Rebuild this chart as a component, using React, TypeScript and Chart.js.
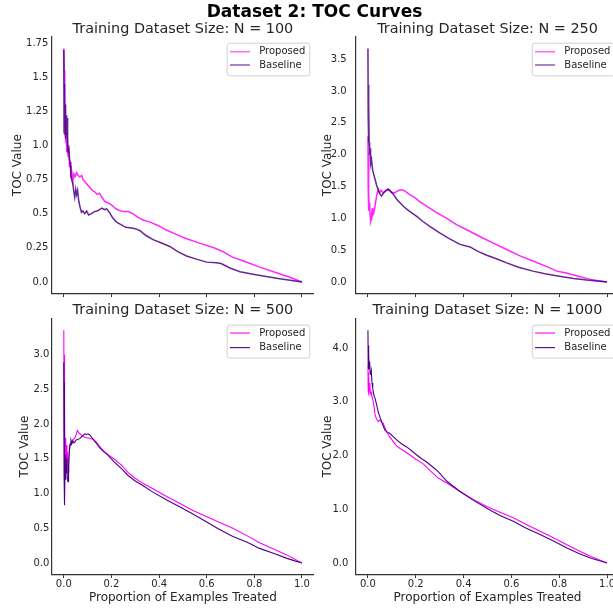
import React, { useEffect, useRef } from 'react';
import { Chart, registerables } from 'chart.js';

Chart.register(...registerables);
Chart.defaults.font.family = 'DejaVu Sans';

// ---------------- DATA ----------------
const SERIES_NAMES = ['Proposed', 'Baseline'];
const X_TICKS = [0, 0.2, 0.4, 0.6, 0.8, 1.0];

// N = 100
const N100_Y_TICKS = [0, 0.25, 0.5, 0.75, 1.0, 1.25, 1.5, 1.75];
const N100_PROPOSED_X = [0, 0.002, 0.004, 0.006, 0.008, 0.01, 0.012, 0.015, 0.018, 0.021, 0.024, 0.027, 0.03, 0.034, 0.038, 0.042, 0.047, 0.053, 0.06, 0.067, 0.075, 0.081, 0.09, 0.1, 0.11, 0.12, 0.13, 0.14, 0.15, 0.16, 0.172, 0.185, 0.2, 0.215, 0.23, 0.25, 0.27, 0.29, 0.31, 0.333, 0.36, 0.4, 0.43, 0.47, 0.51, 0.56, 0.63, 0.67, 0.71, 0.76, 0.82, 0.88, 0.94, 1.0];
const N100_PROPOSED_Y = [1.71, 1.55, 1.35, 1.2, 1.02, 1.1, 0.95, 1.05, 0.92, 0.98, 0.84, 0.88, 0.78, 0.8, 0.74, 0.79, 0.77, 0.8, 0.78, 0.77, 0.78, 0.75, 0.73, 0.71, 0.69, 0.67, 0.66, 0.64, 0.65, 0.62, 0.59, 0.58, 0.565, 0.54, 0.525, 0.515, 0.515, 0.5, 0.475, 0.454, 0.44, 0.41, 0.38, 0.35, 0.32, 0.29, 0.25, 0.22, 0.18, 0.15, 0.11, 0.075, 0.04, 0.0];
const N100_BASELINE_X = [0, 0.001, 0.002, 0.003, 0.004, 0.005, 0.006, 0.007, 0.008, 0.009, 0.01, 0.012, 0.014, 0.016, 0.018, 0.02, 0.024, 0.028, 0.03, 0.034, 0.038, 0.042, 0.046, 0.05, 0.054, 0.058, 0.062, 0.068, 0.074, 0.08, 0.088, 0.096, 0.104, 0.116, 0.128, 0.14, 0.15, 0.16, 0.172, 0.18, 0.193, 0.205, 0.22, 0.24, 0.26, 0.284, 0.3, 0.32, 0.345, 0.375, 0.41, 0.445, 0.48, 0.515, 0.56, 0.6, 0.64, 0.66, 0.7, 0.74, 0.8, 0.85, 0.9, 0.95, 1.0];
const N100_BASELINE_Y = [1.7, 1.1, 1.45, 1.08, 1.32, 1.12, 1.25, 1.1, 1.3, 1.05, 1.22, 1.08, 1.2, 1.0, 0.95, 1.0, 0.9, 0.85, 0.78, 0.74, 0.72, 0.66, 0.62, 0.68, 0.64, 0.67, 0.6, 0.55, 0.51, 0.52, 0.5, 0.52, 0.49, 0.5, 0.515, 0.52, 0.53, 0.54, 0.53, 0.535, 0.505, 0.47, 0.44, 0.42, 0.4, 0.395, 0.39, 0.375, 0.34, 0.31, 0.285, 0.26, 0.22, 0.19, 0.165, 0.145, 0.14, 0.135, 0.1, 0.075, 0.055, 0.04, 0.025, 0.012, 0.0];

// N = 250
const N250_Y_TICKS = [0, 0.5, 1.0, 1.5, 2.0, 2.5, 3.0, 3.5];
const N250_PROPOSED_X = [0, 0.001, 0.002, 0.003, 0.004, 0.005, 0.007, 0.009, 0.011, 0.013, 0.016, 0.018, 0.02, 0.024, 0.028, 0.032, 0.036, 0.04, 0.043, 0.048, 0.055, 0.064, 0.075, 0.085, 0.092, 0.1, 0.11, 0.12, 0.13, 0.14, 0.15, 0.165, 0.176, 0.195, 0.218, 0.25, 0.287, 0.33, 0.37, 0.413, 0.47, 0.524, 0.58, 0.636, 0.69, 0.748, 0.79, 0.83, 0.88, 0.93, 1.0];
const N250_PROPOSED_Y = [2.29, 1.5, 2.05, 1.12, 1.4, 1.13, 1.25, 1.05, 0.95, 0.98, 1.1, 1.16, 1.05, 1.08, 1.15, 1.25, 1.35, 1.42, 1.45, 1.4, 1.44, 1.4, 1.43, 1.45, 1.44, 1.41, 1.4, 1.42, 1.44, 1.45, 1.44, 1.4, 1.37, 1.33, 1.26, 1.18, 1.09, 1.0, 0.9, 0.82, 0.71, 0.61, 0.51, 0.41, 0.33, 0.24, 0.17, 0.14, 0.09, 0.04, 0.0];
const N250_BASELINE_X = [0, 0.001, 0.002, 0.003, 0.004, 0.005, 0.007, 0.009, 0.011, 0.015, 0.02, 0.025, 0.03, 0.036, 0.043, 0.05, 0.057, 0.065, 0.075, 0.085, 0.095, 0.106, 0.12, 0.135, 0.148, 0.17, 0.204, 0.23, 0.26, 0.3, 0.34, 0.385, 0.427, 0.46, 0.497, 0.54, 0.58, 0.63, 0.69, 0.74, 0.8, 0.86, 0.915, 1.0];
const N250_BASELINE_Y = [3.67, 2.6, 3.1, 2.2, 2.8, 2.19, 2.0, 2.1, 1.85, 1.92, 1.75, 1.68, 1.61, 1.52, 1.45, 1.38, 1.35, 1.4, 1.44, 1.46, 1.42, 1.38, 1.3, 1.24, 1.19, 1.12, 1.03, 0.95, 0.87, 0.77, 0.68, 0.59, 0.55, 0.48, 0.42, 0.36, 0.3, 0.23, 0.17, 0.13, 0.09, 0.055, 0.03, 0.0];

// N = 500
const N500_Y_TICKS = [0, 0.5, 1.0, 1.5, 2.0, 2.5, 3.0];
const N500_PROPOSED_X = [0, 0.001, 0.002, 0.003, 0.004, 0.005, 0.007, 0.009, 0.011, 0.013, 0.015, 0.018, 0.021, 0.024, 0.027, 0.03, 0.035, 0.04, 0.046, 0.052, 0.057, 0.062, 0.068, 0.074, 0.08, 0.088, 0.095, 0.105, 0.116, 0.127, 0.137, 0.15, 0.16, 0.172, 0.19, 0.21, 0.242, 0.27, 0.3, 0.33, 0.374, 0.43, 0.486, 0.54, 0.598, 0.65, 0.71, 0.77, 0.822, 0.88, 0.934, 1.0];
const N500_PROPOSED_Y = [3.35, 2.2, 3.0, 1.6, 2.2, 1.4, 1.8, 1.55, 1.7, 1.45, 1.6, 1.31, 1.5, 1.65, 1.72, 1.74, 1.76, 1.78, 1.8, 1.85, 1.91, 1.88, 1.86, 1.84, 1.82, 1.81, 1.8, 1.8, 1.79, 1.77, 1.74, 1.68, 1.64, 1.6, 1.55, 1.5, 1.41, 1.3, 1.22, 1.15, 1.07, 0.96, 0.86, 0.76, 0.67, 0.59, 0.5, 0.39, 0.29, 0.2, 0.12, 0.0];
const N500_BASELINE_X = [0, 0.001, 0.002, 0.003, 0.004, 0.005, 0.007, 0.009, 0.011, 0.013, 0.015, 0.018, 0.02, 0.023, 0.026, 0.03, 0.034, 0.038, 0.042, 0.046, 0.052, 0.06, 0.067, 0.075, 0.082, 0.088, 0.095, 0.102, 0.11, 0.12, 0.13, 0.137, 0.15, 0.165, 0.186, 0.21, 0.242, 0.27, 0.3, 0.33, 0.374, 0.43, 0.486, 0.54, 0.598, 0.65, 0.71, 0.77, 0.822, 0.88, 0.934, 0.97, 1.0];
const N500_BASELINE_Y = [2.89, 1.3, 2.6, 1.0, 0.83, 1.4, 1.2, 1.55, 1.3, 1.5, 1.2, 1.17, 1.4, 1.6, 1.7, 1.77, 1.72, 1.76, 1.73, 1.74, 1.77, 1.78, 1.79, 1.82, 1.84, 1.86, 1.85, 1.86, 1.84, 1.8, 1.75, 1.72, 1.66, 1.61, 1.55, 1.46, 1.36, 1.26, 1.18, 1.12, 1.02, 0.91, 0.81, 0.71, 0.595, 0.49, 0.38, 0.3, 0.21, 0.14, 0.07, 0.03, 0.0];

// N = 1000
const N1000_Y_TICKS = [0, 1.0, 2.0, 3.0, 4.0];
const N1000_PROPOSED_X = [0, 0.001, 0.002, 0.003, 0.004, 0.006, 0.008, 0.01, 0.013, 0.015, 0.018, 0.022, 0.026, 0.03, 0.036, 0.043, 0.05, 0.057, 0.064, 0.071, 0.078, 0.09, 0.106, 0.12, 0.134, 0.15, 0.176, 0.2, 0.23, 0.26, 0.294, 0.33, 0.385, 0.44, 0.497, 0.55, 0.608, 0.66, 0.72, 0.78, 0.832, 0.88, 0.93, 1.0];
const N1000_PROPOSED_Y = [3.68, 3.2, 3.55, 3.16, 3.45, 3.2, 3.35, 3.15, 3.18, 3.13, 3.08, 3.0, 2.9, 2.75, 2.68, 2.63, 2.66, 2.62, 2.6, 2.52, 2.44, 2.35, 2.26, 2.18, 2.13, 2.09, 2.01, 1.93, 1.85, 1.72, 1.58, 1.49, 1.33, 1.18, 1.05, 0.95, 0.84, 0.72, 0.59, 0.46, 0.34, 0.23, 0.124, 0.0];
const N1000_BASELINE_X = [0, 0.001, 0.002, 0.003, 0.004, 0.005, 0.007, 0.009, 0.011, 0.014, 0.017, 0.02, 0.025, 0.03, 0.036, 0.043, 0.05, 0.057, 0.064, 0.071, 0.08, 0.092, 0.106, 0.12, 0.14, 0.162, 0.185, 0.204, 0.225, 0.245, 0.27, 0.294, 0.33, 0.385, 0.44, 0.497, 0.55, 0.608, 0.66, 0.72, 0.78, 0.832, 0.88, 0.93, 1.0];
const N1000_BASELINE_Y = [4.33, 3.7, 4.05, 3.6, 3.9, 3.62, 3.75, 3.55, 3.5, 3.58, 3.35, 3.25, 3.12, 3.06, 2.95, 2.81, 2.72, 2.63, 2.55, 2.47, 2.44, 2.41, 2.35, 2.29, 2.22, 2.16, 2.08, 2.01, 1.94, 1.88, 1.79, 1.7, 1.52, 1.33, 1.17, 1.02, 0.89, 0.775, 0.65, 0.53, 0.4, 0.28, 0.18, 0.093, 0.0];

// ---------------- STYLE / LAYOUT ----------------
const TEXT = '#262626';
const PROPOSED_RGB = '255,0,255';
const BASELINE_RGB = '75,0,130';
const CANVAS_W = 640;
const CANVAS_H = 609;

type PanelSpec = {
  title: string;
  px: number[]; py: number[]; bx: number[]; by: number[];
  yTicks: number[];
  yMin: number; yMax: number;
  padLeft: number; padRight: number; padTop: number; padBottom: number;
  yWidth: number; yTitlePad: number; yTickPad: number;
  xHeight: number; showX: boolean; titlePadBottom: number;
  lineAlpha: number; lineWidth: number; legendAlpha: number; legendWidth: number;
  legendRows: [number, number]; legendH: number;
};

const PANELS: PanelSpec[] = [
  {
    title: 'Training Dataset Size: N = 100',
    px: N100_PROPOSED_X, py: N100_PROPOSED_Y, bx: N100_BASELINE_X, by: N100_BASELINE_Y,
    yTicks: N100_Y_TICKS, yMin: -0.0855, yMax: 1.7955,
    padLeft: 0, padRight: 326.1, padTop: 21.8, padBottom: 311.4,
    yWidth: 51.9, yTitlePad: 10.8, yTickPad: 3.6,
    xHeight: 4, showX: false, titlePadBottom: 0.6,
    lineAlpha: 0.85, lineWidth: 1.5, legendAlpha: 0.6, legendWidth: 1.6,
    legendRows: [9, 22.3], legendH: 32.6,
  },
  {
    title: 'Training Dataset Size: N = 250',
    px: N250_PROPOSED_X, py: N250_PROPOSED_Y, bx: N250_BASELINE_X, by: N250_BASELINE_Y,
    yTicks: N250_Y_TICKS, yMin: -0.1835, yMax: 3.8535,
    padLeft: 300, padRight: 21, padTop: 21.8, padBottom: 311.4,
    yWidth: 56, yTitlePad: 20.9, yTickPad: 9.3,
    xHeight: 4, showX: false, titlePadBottom: 0.6,
    lineAlpha: 0.85, lineWidth: 1.5, legendAlpha: 0.6, legendWidth: 1.6,
    legendRows: [9, 22.3], legendH: 32.6,
  },
  {
    title: 'Training Dataset Size: N = 500',
    px: N500_PROPOSED_X, py: N500_PROPOSED_Y, bx: N500_BASELINE_X, by: N500_BASELINE_Y,
    yTicks: N500_Y_TICKS, yMin: -0.1675, yMax: 3.5175,
    padLeft: 0, padRight: 326.1, padTop: 303.5, padBottom: 0,
    yWidth: 51.9, yTitlePad: 17.5, yTickPad: 2.6,
    xHeight: 34.4, showX: true, titlePadBottom: 0.8,
    lineAlpha: 1, lineWidth: 1.1, legendAlpha: 1, legendWidth: 1.1,
    legendRows: [8.4, 23], legendH: 33,
  },
  {
    title: 'Training Dataset Size: N = 1000',
    px: N1000_PROPOSED_X, py: N1000_PROPOSED_Y, bx: N1000_BASELINE_X, by: N1000_BASELINE_Y,
    yTicks: N1000_Y_TICKS, yMin: -0.2165, yMax: 4.5465,
    padLeft: 300, padRight: 21, padTop: 303.5, padBottom: 0,
    yWidth: 56, yTitlePad: 20.9, yTickPad: 7.7,
    xHeight: 34.4, showX: true, titlePadBottom: 0.8,
    lineAlpha: 1, lineWidth: 1.1, legendAlpha: 1, legendWidth: 1.1,
    legendRows: [8.4, 23], legendH: 33,
  },
];

const fmt = (v: number) => (Number.isInteger(v) ? v.toFixed(1) : String(v));

const toPoints = (xs: number[], ys: number[]) => xs.map((x, i) => ({ x, y: ys[i] }));

function roundRect(ctx: CanvasRenderingContext2D, x: number, y: number, w: number, h: number, r: number) {
  ctx.beginPath();
  ctx.moveTo(x + r, y);
  ctx.lineTo(x + w - r, y);
  ctx.arcTo(x + w, y, x + w, y + r, r);
  ctx.lineTo(x + w, y + h - r);
  ctx.arcTo(x + w, y + h, x + w - r, y + h, r);
  ctx.lineTo(x + r, y + h);
  ctx.arcTo(x, y + h, x, y + h - r, r);
  ctx.lineTo(x, y + r);
  ctx.arcTo(x, y, x + r, y, r);
  ctx.closePath();
}

const insideLegend = {
  id: 'insideLegend',
  afterDatasetsDraw(chart: any, _args: any, opts: any) {
    const { ctx, chartArea } = chart;
    const spec: PanelSpec = opts.spec;
    ctx.save();
    ctx.font = '10px "DejaVu Sans"';
    const textW = Math.max(...SERIES_NAMES.map((n) => ctx.measureText(n).width));
    const w = 32.6 + textW + 4;
    const right = chartArea.right - 4.6;
    const left = right - w;
    const top = chartArea.top + 5.9;
    roundRect(ctx, left + 0.5, top + 0.5, w, spec.legendH, 2.5);
    ctx.fillStyle = 'rgba(255,255,255,0.85)';
    ctx.fill();
    ctx.strokeStyle = '#d0d0d0';
    ctx.lineWidth = 1;
    ctx.stroke();
    const rgbs = [PROPOSED_RGB, BASELINE_RGB];
    SERIES_NAMES.forEach((name, i) => {
      const y = top + spec.legendRows[i];
      ctx.beginPath();
      ctx.moveTo(left + 3.3, y);
      ctx.lineTo(left + 23.3, y);
      ctx.strokeStyle = `rgba(${rgbs[i]},${spec.legendAlpha})`;
      ctx.lineWidth = spec.legendWidth;
      ctx.stroke();
      ctx.fillStyle = TEXT;
      ctx.textAlign = 'left';
      ctx.textBaseline = 'middle';
      ctx.fillText(name, left + 32.6, y);
    });
    ctx.restore();
  },
};

function Panel({ spec }: { spec: PanelSpec }) {
  const ref = useRef<HTMLCanvasElement>(null);
  useEffect(() => {
    const chart = new Chart(ref.current as HTMLCanvasElement, {
      type: 'line',
      data: {
        datasets: [
          {
            label: SERIES_NAMES[0],
            data: toPoints(spec.px, spec.py),
            borderColor: `rgba(${PROPOSED_RGB},${spec.lineAlpha})`,
            borderWidth: spec.lineWidth,
            pointRadius: 0,
            tension: 0,
            fill: false,
            order: 1,
          },
          {
            label: SERIES_NAMES[1],
            data: toPoints(spec.bx, spec.by),
            borderColor: `rgba(${BASELINE_RGB},${spec.lineAlpha})`,
            borderWidth: spec.lineWidth,
            pointRadius: 0,
            tension: 0,
            fill: false,
            order: 0,
          },
        ],
      },
      options: {
        responsive: false,
        animation: false,
        events: [],
        layout: {
          padding: { left: spec.padLeft, right: spec.padRight, top: spec.padTop, bottom: spec.padBottom },
        },
        plugins: {
          legend: { display: false },
          tooltip: { enabled: false },
          title: {
            display: true,
            text: spec.title,
            fullSize: false,
            align: 'center',
            color: TEXT,
            font: { size: 14.4, weight: 'normal', lineHeight: 1, family: 'DejaVu Sans' },
            padding: { top: 0, bottom: spec.titlePadBottom },
          },
          insideLegend: { spec },
        } as any,
        scales: {
          x: {
            type: 'linear',
            min: -0.05,
            max: 1.05,
            afterBuildTicks: (axis: any) => {
              axis.ticks = X_TICKS.map((v) => ({ value: v }));
            },
            afterFit: (axis: any) => {
              axis.height = spec.xHeight;
            },
            ticks: {
              display: spec.showX,
              color: TEXT,
              padding: 1,
              maxRotation: 0,
              autoSkip: false,
              font: { size: 10, lineHeight: 1 },
              callback: (v: any) => fmt(Number(v)),
            },
            grid: {
              display: true,
              drawOnChartArea: false,
              drawTicks: true,
              tickLength: 3.5,
              color: '#333333',
              lineWidth: 1,
            },
            border: { display: true, color: '#333333', width: 1.2 },
            title: {
              display: spec.showX,
              text: 'Proportion of Examples Treated',
              color: TEXT,
              font: { size: 12, lineHeight: 1.2 },
              padding: { top: 0, bottom: 3.8 },
            },
          },
          y: {
            type: 'linear',
            min: spec.yMin,
            max: spec.yMax,
            afterBuildTicks: (axis: any) => {
              axis.ticks = spec.yTicks.map((v) => ({ value: v }));
            },
            afterFit: (axis: any) => {
              axis.width = spec.yWidth;
            },
            ticks: {
              color: TEXT,
              padding: spec.yTickPad,
              autoSkip: false,
              font: { size: 10, lineHeight: 1.2 },
              callback: (v: any) => fmt(Number(v)),
            },
            grid: { display: false, drawTicks: false, tickLength: 0 },
            border: { display: true, color: '#333333', width: 1.2 },
            title: {
              display: true,
              text: 'TOC Value',
              color: TEXT,
              font: { size: 12, lineHeight: 1.2 },
              padding: { top: spec.yTitlePad, bottom: 0 },
            },
          },
        },
      },
      plugins: [insideLegend],
    } as any);
    return () => chart.destroy();
  }, [spec]);
  return (
    <canvas
      ref={ref}
      width={CANVAS_W}
      height={CANVAS_H}
      style={{ position: 'absolute', left: 0, top: 0, width: CANVAS_W, height: CANVAS_H }}
    />
  );
}

export default function App() {
  return (
    <div
      style={{
        position: 'fixed',
        left: 0,
        top: 0,
        width: 613,
        height: 609,
        overflow: 'hidden',
        background: '#ffffff',
      }}
    >
      {PANELS.map((p) => (
        <Panel key={p.title} spec={p} />
      ))}
      <div
        style={{
          position: 'absolute',
          left: 0,
          top: 1,
          width: 629,
          textAlign: 'center',
          fontFamily: '"DejaVu Sans"',
          fontWeight: 'bold',
          fontSize: 17,
          lineHeight: '20px',
          color: '#000000',
          whiteSpace: 'nowrap',
        }}
      >
        Dataset 2: TOC Curves
      </div>
    </div>
  );
}
